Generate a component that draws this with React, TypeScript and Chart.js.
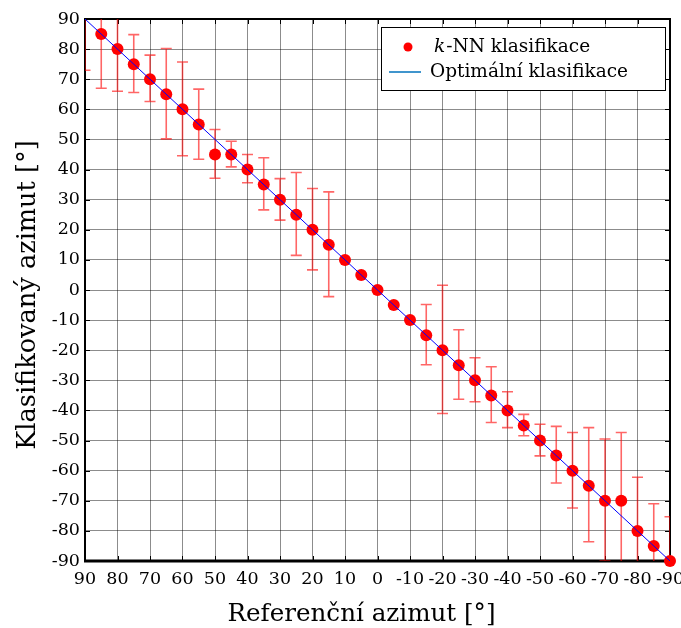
import React, { useEffect, useRef } from "react";
import { Chart, registerables } from "chart.js";

Chart.register(...registerables);

// Reference azimuth (x) in degrees
const referenceAzimuth = [
  90, 85, 80, 75, 70, 65, 60, 55, 50, 45, 40, 35, 30, 25, 20, 15, 10, 5, 0,
  -5, -10, -15, -20, -25, -30, -35, -40, -45, -50, -55, -60, -65, -70, -75, -80, -85, -90,
];
// k-NN classified azimuth (median)
const classifiedAzimuth: (number | null)[] = [
  null, 85, 80, 75, 70, 65, 60, 55, 45, 45, 40, 35, 30, 25, 20, 15, 10, 5, 0,
  -5, -10, -15, -20, -25, -30, -35, -40, -45, -50, -55, -60, -65, -70, -70, -80, -85, -90,
];
// Error bar lower / upper ends
const errorLow: (number | null)[] = [
  73, 67, 66, 65.6, 62.6, 50.2, 44.6, 43.4, 37.1, 40.9, 35.6, 26.6, 23.2, 11.5, 6.7, -2.2, null, null, null,
  null, null, -24.8, -41, -36.3, -37.1, -44, -45.7, -48.4, -55.1, -64.1, -72.4, -83.6, -90, -100, -100, -100, -100,
];
const errorHigh: (number | null)[] = [
  100, 100, 100, 84.8, 78, 80.2, 75.7, 66.7, 53.3, 49.4, 45, 43.9, 37, 39, 33.7, 32.6, null, null, null,
  null, null, -4.8, 1.6, -13.2, -22.5, -25.5, -33.8, -41.3, -44.6, -45.3, -47.3, -45.7, -49.5, -47.3, -62.2, -71, -75.3,
];
// Optimal classification line
const optimalX = [90, -90];
const optimalY = [90, -90];

const axisMin = -90;
const axisMax = 90;
const axisStep = 10;

const xTitle = "Referenční azimut [°]";
const yTitle = "Klasifikovaný azimut [°]";
const legendPoints = ["k", "-NN klasifikace"];
const legendLine = "Optimální klasifikace";

const FONT = "'DejaVu Serif', serif";

const framePlugin = {
  id: "frame",
  beforeDatasetsDraw(chart: any) {
    const { ctx, chartArea, scales } = chart;
    const { left, right, top, bottom } = chartArea;
    ctx.save();
    ctx.strokeStyle = "#000";
    ctx.lineWidth = 1;
    ctx.beginPath();
    scales.x.ticks.forEach((t: any) => {
      const px = Math.round(scales.x.getPixelForValue(t.value)) + 0.5;
      ctx.moveTo(px, bottom);
      ctx.lineTo(px, bottom - 5);
      ctx.moveTo(px, top);
      ctx.lineTo(px, top + 5);
    });
    scales.y.ticks.forEach((t: any) => {
      const py = Math.round(scales.y.getPixelForValue(t.value)) + 0.5;
      ctx.moveTo(left, py);
      ctx.lineTo(left + 5, py);
      ctx.moveTo(right, py);
      ctx.lineTo(right - 5, py);
    });
    ctx.stroke();
    ctx.lineWidth = 2;
    ctx.beginPath();
    ctx.moveTo(left, bottom);
    ctx.lineTo(left, top);
    ctx.lineTo(right, top);
    ctx.lineTo(right, bottom);
    ctx.stroke();
    ctx.lineWidth = 3;
    ctx.beginPath();
    ctx.moveTo(left - 1, bottom);
    ctx.lineTo(right + 1, bottom);
    ctx.stroke();
    ctx.restore();
  },
};

const errorBarPlugin = {
  id: "errorBars",
  beforeDatasetsDraw(chart: any) {
    const { ctx, chartArea, scales } = chart;
    const { x, y } = scales;
    ctx.save();
    ctx.beginPath();
    ctx.rect(chartArea.left, chartArea.top, chartArea.right - chartArea.left, chartArea.bottom - chartArea.top);
    ctx.clip();
    ctx.strokeStyle = "rgba(255,0,0,0.6)";
    ctx.lineWidth = 1.6;
    referenceAzimuth.forEach((ref, i) => {
      const lo = errorLow[i];
      const hi = errorHigh[i];
      if (lo == null || hi == null) return;
      const px = x.getPixelForValue(ref);
      const pLo = y.getPixelForValue(lo);
      const pHi = y.getPixelForValue(hi);
      ctx.beginPath();
      ctx.moveTo(px, pLo);
      ctx.lineTo(px, pHi);
      ctx.moveTo(px - 5.5, pLo);
      ctx.lineTo(px + 5.5, pLo);
      ctx.moveTo(px - 5.5, pHi);
      ctx.lineTo(px + 5.5, pHi);
      ctx.stroke();
    });
    ctx.restore();
  },
};

const titlesPlugin = {
  id: "axisTitles",
  afterDraw(chart: any) {
    const { ctx } = chart;
    ctx.save();
    ctx.fillStyle = "#000";
    ctx.textAlign = "center";
    ctx.textBaseline = "alphabetic";
    ctx.font = `24.6px ${FONT}`;
    ctx.fillText(xTitle, 361.5, 621);
    ctx.translate(35, 295);
    ctx.rotate(-Math.PI / 2);
    ctx.font = `25.6px ${FONT}`;
    ctx.fillText(yTitle, 0, 0);
    ctx.restore();
  },
};

const legendPlugin = {
  id: "customLegend",
  afterDraw(chart: any) {
    const { ctx, chartArea } = chart;
    const w = 284;
    const h = 63;
    const bx = chartArea.right - 5 - w;
    const by = chartArea.top + 8;
    ctx.save();
    ctx.fillStyle = "#fff";
    ctx.fillRect(bx, by, w, h);
    ctx.strokeStyle = "#000";
    ctx.lineWidth = 1;
    ctx.strokeRect(Math.round(bx) + 0.5, Math.round(by) + 0.5, w, h);
    ctx.fillStyle = "#ff0000";
    ctx.beginPath();
    ctx.arc(bx + 27, by + 20, 4.5, 0, Math.PI * 2);
    ctx.fill();
    ctx.fillStyle = "#000";
    ctx.textBaseline = "middle";
    ctx.textAlign = "left";
    ctx.font = `italic 18.5px ${FONT}`;
    ctx.fillText(legendPoints[0], bx + 53, by + 20);
    const kw = ctx.measureText(legendPoints[0]).width;
    ctx.font = `18.5px ${FONT}`;
    ctx.fillText(legendPoints[1], bx + 53 + kw + 1, by + 20);
    ctx.strokeStyle = "#0072bd";
    ctx.lineWidth = 1.5;
    ctx.beginPath();
    ctx.moveTo(bx + 8, by + 45);
    ctx.lineTo(bx + 40, by + 45);
    ctx.stroke();
    ctx.fillText(legendLine, bx + 49, by + 45);
    ctx.restore();
  },
};

export default function App() {
  const canvasRef = useRef<HTMLCanvasElement | null>(null);

  useEffect(() => {
    document.body.style.margin = "0";
    const canvas = canvasRef.current;
    if (!canvas) return;

    const points = referenceAzimuth.map((r, i) => ({ x: r, y: classifiedAzimuth[i] }));
    const optimal = optimalX.map((r, i) => ({ x: r, y: optimalY[i] }));

    const chart = new Chart(canvas, {
      type: "scatter",
      data: {
        datasets: [
          {
            type: "line",
            label: legendLine,
            data: optimal,
            borderColor: "#0000ff",
            borderWidth: 1,
            pointRadius: 0,
            fill: false,
            order: 0,
          } as any,
          {
            type: "scatter",
            label: legendPoints.join(""),
            data: points,
            backgroundColor: "#ff0000",
            borderWidth: 0,
            pointRadius: 6,
            clip: false,
            order: 1,
          } as any,
        ],
      },
      options: {
        animation: false,
        responsive: false,
        devicePixelRatio: 1,
        layout: { padding: { top: 19, right: 11, left: 0, bottom: 0 } },
        plugins: { legend: { display: false }, tooltip: { enabled: false } },
        scales: {
          x: {
            type: "linear",
            reverse: true,
            min: axisMin,
            max: axisMax,
            afterFit: (s: any) => {
              s.height = 67;
              s.paddingLeft = 0;
              s.paddingRight = 0;
            },
            ticks: {
              stepSize: axisStep,
              maxRotation: 0,
              autoSkip: false,
              padding: 8,
              color: "#000",
              font: { family: FONT, size: 17.5 },
            },
            grid: { color: "rgba(0,0,0,0.45)", drawTicks: false, lineWidth: 1 },
            border: { display: false },
          },
          y: {
            type: "linear",
            min: axisMin,
            max: axisMax,
            afterFit: (s: any) => {
              s.width = 85;
              s.paddingTop = 0;
              s.paddingBottom = 0;
            },
            ticks: {
              stepSize: axisStep,
              autoSkip: false,
              padding: 5,
              color: "#000",
              font: { family: FONT, size: 17.5 },
            },
            grid: { color: "rgba(0,0,0,0.45)", drawTicks: false, lineWidth: 1 },
            border: { display: false },
          },
        },
      },
      plugins: [framePlugin, errorBarPlugin, legendPlugin, titlesPlugin],
    });

    return () => chart.destroy();
  }, []);

  return (
    <div style={{ width: 681, height: 628 }}>
      <canvas ref={canvasRef} width={681} height={628} style={{ display: "block" }} />
    </div>
  );
}
